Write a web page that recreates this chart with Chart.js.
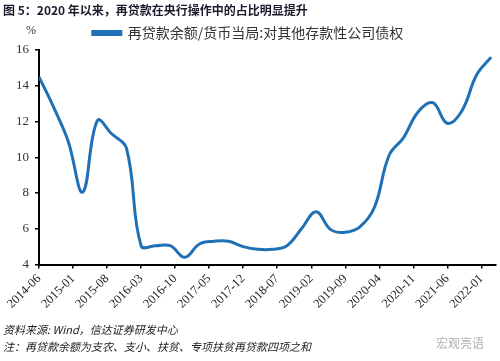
<!DOCTYPE html>
<html>
<head>
<meta charset="utf-8">
<script src="https://cdn.jsdelivr.net/npm/chart.js@4.4.1/dist/chart.umd.min.js"></script>
<style>
  html, body { margin: 0; padding: 0; background: #fff; }
  #wrap { position: relative; width: 500px; height: 361px; }
</style>
</head>
<body>
<div id="wrap"><canvas id="chart" width="500" height="361"></canvas></div>
<script>
// quarterly observations, month offset from 2014-06
const quarterMonths = [0, 3, 6, 9, 12, 15, 18, 21, 24, 27, 30, 33, 36, 39, 42, 45,
  48, 51, 54, 57, 60, 63, 66, 69, 72, 75, 78, 81, 84, 87, 90, 93];
const reloanShare = [14.5, 12.8, 10.9, 8.05, 12.05, 11.3, 10.5, 5.05, 5.05, 5.05, 4.4, 5.15, 5.3, 5.3, 5.0, 4.85,
  4.85, 5.05, 6.0, 6.95, 5.95, 5.8, 6.1, 7.2, 10.1, 11.1, 12.55, 13.05, 11.9, 12.6, 14.6, 15.6];
const tickLabels = ['2014-06', '2015-01', '2015-08', '2016-03', '2016-10', '2017-05', '2017-12',
  '2018-07', '2019-02', '2019-09', '2020-04', '2020-11', '2021-06', '2022-01'];
const seriesName = '再贷款余额/货币当局:对其他存款性公司债权';
const titleText = '图 5：2020 年以来，再贷款在央行操作中的占比明显提升';
const sourceText = '资料来源: Wind，信达证券研发中心';
const noteText = '注：再贷款余额为支农、支小、扶贫、专项扶贫再贷款四项之和';

const cjk = '"Noto Sans CJK SC", "Noto Sans", sans-serif';
const serif = '"Liberation Serif", "DejaVu Serif", serif';

const points = quarterMonths.map((m, i) => ({ x: m, y: reloanShare[i] }));

const textPlugin = {
  id: 'textPlugin',
  afterDraw(chart) {
    const ctx = chart.ctx;
    ctx.save();
    ctx.textBaseline = 'middle';
    ctx.fillStyle = '#1b1b2b';
    ctx.font = 'bold 12px ' + cjk;
    ctx.fillText(titleText, 3, 10);
    ctx.fillStyle = '#333';
    ctx.font = '12px ' + serif;
    ctx.fillText('%', 26, 31);
    ctx.font = 'italic 11px ' + cjk;
    ctx.fillStyle = '#222';
    ctx.fillText(sourceText, 3, 330);
    ctx.fillText(noteText, 3, 347);
    ctx.fillStyle = '#b0b0b0';
    ctx.font = '12px ' + cjk;
    ctx.fillText('宏观亮语', 436, 343);
    ctx.restore();
  },
};

const config = {
  type: 'line',
  data: {
    datasets: [
      {
        label: seriesName,
        data: points,
        borderColor: '#1f70b5',
        backgroundColor: '#1f70b5',
        borderWidth: 3,
        pointRadius: 0,
        tension: 0.4,
        fill: false,
      },
    ],
  },
  options: {
    responsive: false,
    animation: false,
    layout: { padding: { top: 24, right: 4, left: 0, bottom: 0 } },
    plugins: {
      legend: {
        display: true,
        position: 'top',
        labels: {
          boxWidth: 28,
          boxHeight: 3,
          padding: 2,
          color: '#333',
          font: { family: cjk, size: 14 },
        },
      },
      tooltip: { enabled: false },
    },
    scales: {
      x: {
        type: 'linear',
        min: 0,
        max: 94,
        afterBuildTicks: (scale) => {
          scale.ticks = tickLabels.map((t, i) => ({ value: i * 7 }));
        },
        afterFit: (scale) => {
          scale.height = 96.5;
        },
        ticks: {
          autoSkip: false,
          maxRotation: 45,
          minRotation: 45,
          color: '#222',
          font: { family: serif, size: 12.5 },
          callback: (v) => tickLabels[Math.round(v / 7)],
        },
        grid: { drawOnChartArea: false, drawTicks: true, tickLength: 4, color: '#000', lineWidth: 1.5 },
        border: { color: '#000', width: 2 },
      },
      y: {
        min: 4,
        max: 16,
        afterFit: (scale) => {
          scale.width = 39;
        },
        ticks: {
          stepSize: 2,
          color: '#333',
          padding: 6,
          font: { family: serif, size: 13 },
        },
        grid: { drawOnChartArea: false, drawTicks: true, tickLength: 4, color: '#000', lineWidth: 1.5 },
        border: { color: '#000', width: 2 },
      },
    },
  },
  plugins: [textPlugin],
};

new Chart(document.getElementById('chart'), config);
</script>
</body>
</html>
